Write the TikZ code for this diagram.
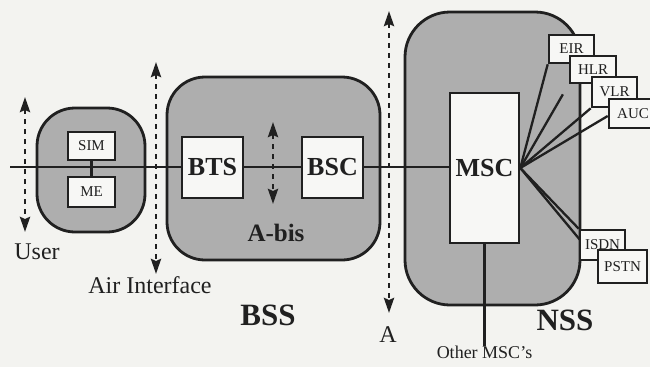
\documentclass[tikz,border=0pt]{standalone}
\usepackage{fontspec}
\setmainfont{Liberation Serif}
\usetikzlibrary{arrows.meta,calc}
\definecolor{bgc}{RGB}{243,243,240}
\definecolor{shade}{RGB}{174,174,174}
\definecolor{ink}{RGB}{32,32,32}
\definecolor{boxw}{RGB}{247,247,245}
\tikzset{
  region/.style={fill=shade, draw=ink, line width=2.8pt},
  box/.style={draw=ink, fill=boxw, line width=2.6pt, inner sep=0pt, text=ink},
  smallbox/.style={box, font=\fontsize{15}{17}\selectfont},
  bigbox/.style={box, font=\fontsize{26}{30}\selectfont\bfseries},
  conn/.style={draw=ink, line width=2.3pt},
  dasharrow/.style={draw=ink, line width=2.8pt, dash pattern=on 5pt off 5pt,
    {Stealth[length=15pt,width=10pt,inset=2pt]}-{Stealth[length=15pt,width=10pt,inset=2pt]}},
  lbl/.style={text=ink, inner sep=0pt, font=\fontsize{24}{28}\selectfont},
  blbl/.style={text=ink, inner sep=0pt, font=\fontsize{31}{35}\selectfont\bfseries},
  mlbl/.style={text=ink, inner sep=0pt, font=\fontsize{25}{29}\selectfont\bfseries},
  slbl/.style={text=ink, inner sep=0pt, font=\fontsize{18}{21}\selectfont},
}
\begin{document}
\begin{tikzpicture}[x=1pt,y=-1pt]
\useasboundingbox (0,0) rectangle (650,367);
\clip (0,0) rectangle (650,367);
\fill[bgc] (0,0) rectangle (650,367);

% regions
\draw[region, rounded corners=38pt] (37,108) rectangle (145,232);
\draw[region, rounded corners=38pt] (167,77) rectangle (380,260);
\draw[region, rounded corners=45pt] (405,12) rectangle (580,305);

% main horizontal line
\coordinate (start) at (10,167);
\node[bigbox, minimum width=69pt, minimum height=150pt] (msc) at (484.5,168) {MSC};
\draw[conn] (start) -- (msc.west |- start);

% dashed arrows
\coordinate (u1) at (25,97);  \coordinate (u2) at (25,232);
\coordinate (a1) at (156,62); \coordinate (a2) at (156,274);
\coordinate (b1) at (273,122); \coordinate (b2) at (273,204);
\coordinate (c1) at (389,11); \coordinate (c2) at (389,313);
\draw[dasharrow] (u1) -- (u2);
\draw[dasharrow] (a1) -- (a2);
\draw[dasharrow] (b1) -- (b2);
\draw[dasharrow] (c1) -- (c2);

% user equipment
\node[smallbox, minimum width=47pt, minimum height=28pt] (sim) at (91.5,146) {SIM};
\node[smallbox, minimum width=47pt, minimum height=30pt] (me) at (91.5,192) {ME};
\draw[conn] (sim.south) -- (me.north);

% BSS
\node[bigbox, minimum width=61pt, minimum height=61pt] (bts) at (212.5,167.5) {BTS};
\node[bigbox, minimum width=61pt, minimum height=61pt] (bsc) at (332.5,167.5) {BSC};

% NSS boxes (placed to be referenced)
\node[smallbox, minimum width=45pt, minimum height=28pt] (eir) at (571.5,49) {EIR};
\node[smallbox, minimum width=46pt, minimum height=27pt] (hlr) at (593,69.5) {HLR};
\node[smallbox, minimum width=45pt, minimum height=30pt] (vlr) at (614.5,92) {VLR};
\node[smallbox, minimum width=48pt, minimum height=29pt] (auc) at (633,113.5) {AUC};
\node[smallbox, minimum width=45pt, minimum height=30pt] (isdn) at (602.5,245) {ISDN};
\node[smallbox, minimum width=49pt, minimum height=33pt] (pstn) at (622.5,266.5) {PSTN};

% connectors from MSC
\coordinate (hlrend) at ($(msc.east)!0.88!(hlr.south west)$);
\coordinate (aucend) at (auc.west |- 0,116);
\coordinate (pstnend) at (pstn.west |- 0,260);
\draw[conn] (msc.east) -- (eir.south west);
\draw[conn] (msc.east) -- (hlrend);
\draw[conn] (msc.east) -- (vlr.south west);
\draw[conn] (msc.east) -- (aucend);
\draw[conn] (msc.east) -- (isdn.north west);
\draw[conn] (msc.east) -- (pstnend);

% boxes again on top of connectors
\node[smallbox, minimum width=45pt, minimum height=28pt] at (eir) {EIR};
\node[smallbox, minimum width=46pt, minimum height=27pt] at (hlr) {HLR};
\node[smallbox, minimum width=45pt, minimum height=30pt] at (vlr) {VLR};
\node[smallbox, minimum width=48pt, minimum height=29pt] at (auc) {AUC};
\node[smallbox, minimum width=45pt, minimum height=30pt] at (isdn) {ISDN};
\node[smallbox, minimum width=49pt, minimum height=33pt] at (pstn) {PSTN};

% labels
\node[lbl] (user) at (37,252) {User};
\node[lbl] (air) at (150,285) {Air Interface};
\node[mlbl] (abis) at (276,233) {A-bis};
\node[blbl] (bss) at (268,315) {BSS};
\node[lbl] (alabel) at (388,335) {A};
\node[blbl] (nss) at (565,320) {NSS};
\node[slbl, anchor=north] (other) at (484.5,346) {Other MSC's};
\draw[conn] (msc.south) -- (other.north);
\end{tikzpicture}
\end{document}
